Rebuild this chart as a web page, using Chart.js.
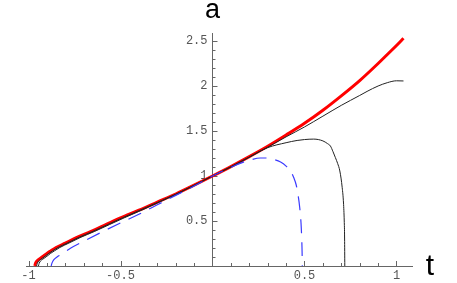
<!DOCTYPE html>
<html>
<head>
<meta charset="utf-8">
<script src="https://cdn.jsdelivr.net/npm/chart.js@4"></script>
<style>
html,body{margin:0;padding:0;background:#fff;}
#wrap{width:457px;height:283px;position:relative;}
</style>
</head>
<body>
<div id="wrap"><canvas id="c" width="457" height="283"></canvas></div>
<script>
// ---- data ----
const redT = [-0.966,-0.962,-0.955,-0.945,-0.935,-0.92,-0.90,-0.88,-0.85,-0.80,-0.74,-0.66,-0.58,-0.5,-0.4,-0.3,-0.2,-0.1,0,0.1,0.2,0.3,0.4,0.5,0.6,0.7,0.8,0.9,0.95,1.0,1.038];
const redA = [0,0.03,0.055,0.072,0.086,0.108,0.14,0.167,0.205,0.255,0.315,0.385,0.46,0.535,0.62,0.71,0.80,0.898,1,1.105,1.215,1.33,1.455,1.585,1.73,1.89,2.06,2.25,2.35,2.45,2.53];

const blackUpT = [-0.956,-0.952,-0.945,-0.935,-0.925,-0.91,-0.89,-0.87,-0.84,-0.79,-0.73,-0.65,-0.57,-0.49,-0.4,-0.3,-0.2,-0.1,0,0.1,0.2,0.3,0.4,0.5,0.6,0.7,0.8,0.84,0.9,0.95,1.0,1.038];
const blackUpA = [0,0.03,0.055,0.072,0.086,0.108,0.14,0.167,0.205,0.255,0.315,0.385,0.46,0.535,0.615,0.705,0.797,0.897,1,1.103,1.21,1.32,1.435,1.545,1.665,1.785,1.895,1.94,2.0,2.037,2.058,2.056];

const blackLoT = [-0.946,-0.942,-0.935,-0.925,-0.915,-0.90,-0.88,-0.86,-0.83,-0.78,-0.72,-0.64,-0.56,-0.48,-0.4,-0.3,-0.2,-0.1,0,0.1,0.2,0.3,0.4,0.46,0.5,0.55,0.6,0.625,0.641,0.655,0.668,0.68,0.692,0.705,0.712,0.716,0.718,0.719];
const blackLoA = [0,0.03,0.055,0.072,0.086,0.108,0.14,0.167,0.205,0.255,0.315,0.385,0.46,0.535,0.607,0.70,0.795,0.896,1,1.10,1.21,1.315,1.37,1.395,1.405,1.41,1.39,1.36,1.333,1.27,1.204,1.14,1.056,0.87,0.70,0.5,0.3,0];

const blueT = [-0.877,-0.872,-0.862,-0.845,-0.826,-0.80,-0.772,-0.70,-0.609,-0.509,-0.4,-0.3,-0.2,-0.1,0,0.05,0.1,0.15,0.2,0.26,0.3,0.333,0.37,0.4,0.424,0.442,0.455,0.465,0.474,0.481,0.485,0.487,0.488];
const blueA = [0,0.035,0.07,0.10,0.125,0.16,0.197,0.275,0.37,0.47,0.575,0.68,0.785,0.888,1,1.05,1.095,1.14,1.175,1.20,1.2,1.185,1.155,1.11,1.056,0.98,0.9,0.79,0.65,0.48,0.3,0.15,0];

const xTickLabels = [-1, -0.5, 0.5, 1];
const yTickLabels = [0.5, 1, 1.5, 2, 2.5];
const xAxisTitle = 't';
const yAxisTitle = 'a';

function pts(ts, as){ return ts.map((t,i)=>({x:t,y:as[i]})); }

const axesPlugin = {
  id:'mmaAxes',
  beforeDatasetsDraw(chart){
    const ctx = chart.ctx, xs = chart.scales.x, ys = chart.scales.y;
    const x0 = xs.getPixelForValue(0), y0 = ys.getPixelForValue(0);
    ctx.save();
    ctx.strokeStyle = '#666'; ctx.lineWidth = 1;
    ctx.beginPath();
    ctx.moveTo(xs.left, Math.round(y0)+0.5); ctx.lineTo(xs.right, Math.round(y0)+0.5);
    ctx.moveTo(Math.round(x0)+0.5, ys.bottom); ctx.lineTo(Math.round(x0)+0.5, ys.top);
    ctx.stroke();
    ctx.beginPath();
    for(let k=-10;k<=10;k++){
      const v=k/10; const px=Math.round(xs.getPixelForValue(v))+0.5;
      const len = (k%5===0)?5:3;
      ctx.moveTo(px, y0); ctx.lineTo(px, y0-len);
    }
    for(let k=1;k<=25;k++){
      const v=k/10; const py=Math.round(ys.getPixelForValue(v))+0.5;
      const len = (k%5===0)?5:3;
      ctx.moveTo(x0, py); ctx.lineTo(x0+len, py);
    }
    ctx.stroke();
    ctx.fillStyle = '#555';
    ctx.font = '12px "Liberation Mono", "DejaVu Sans Mono", monospace';
    ctx.textAlign='center'; ctx.textBaseline='middle';
    xTickLabels.forEach(v=>{
      ctx.fillText(String(v), xs.getPixelForValue(v), y0+10);
    });
    ctx.textAlign='right';
    yTickLabels.forEach(v=>{
      ctx.fillText(String(v), x0-5, ys.getPixelForValue(v));
    });
    ctx.fillStyle='#000';
    ctx.font = '27px "Liberation Sans", Arial, sans-serif';
    ctx.textAlign='center'; ctx.textBaseline='alphabetic';
    ctx.fillText(yAxisTitle, x0, 18);
    ctx.font = '30px "Liberation Sans", Arial, sans-serif';
    ctx.fillText(xAxisTitle, 430, 275);
    ctx.restore();
  }
};

new Chart(document.getElementById('c'), {
  type:'scatter',
  data:{ datasets:[
    {data:pts(blueT,blueA), showLine:true, borderColor:'#3a3aff', borderWidth:1.2, borderDash:[14,9], pointRadius:0, cubicInterpolationMode:'monotone', clip:false},
    {data:pts(blackLoT,blackLoA), showLine:true, borderColor:'#222', borderWidth:1, pointRadius:0, cubicInterpolationMode:'monotone', clip:false},
    {data:pts(blackUpT,blackUpA), showLine:true, borderColor:'#222', borderWidth:1, pointRadius:0, cubicInterpolationMode:'monotone', clip:false},
    {data:pts(redT,redA), showLine:true, borderColor:'#ff0000', borderWidth:3, pointRadius:0, cubicInterpolationMode:'monotone', clip:false}
  ]},
  options:{
    responsive:false, animation:false, devicePixelRatio:1,
    layout:{padding:{left:26,right:44,top:33,bottom:17}},
    plugins:{legend:{display:false}, tooltip:{enabled:false}},
    scales:{
      x:{type:'linear', min:-1.0136, max:1.0897, display:false},
      y:{type:'linear', min:0, max:2.589, display:false}
    }
  },
  plugins:[axesPlugin]
});
</script>
</body>
</html>
